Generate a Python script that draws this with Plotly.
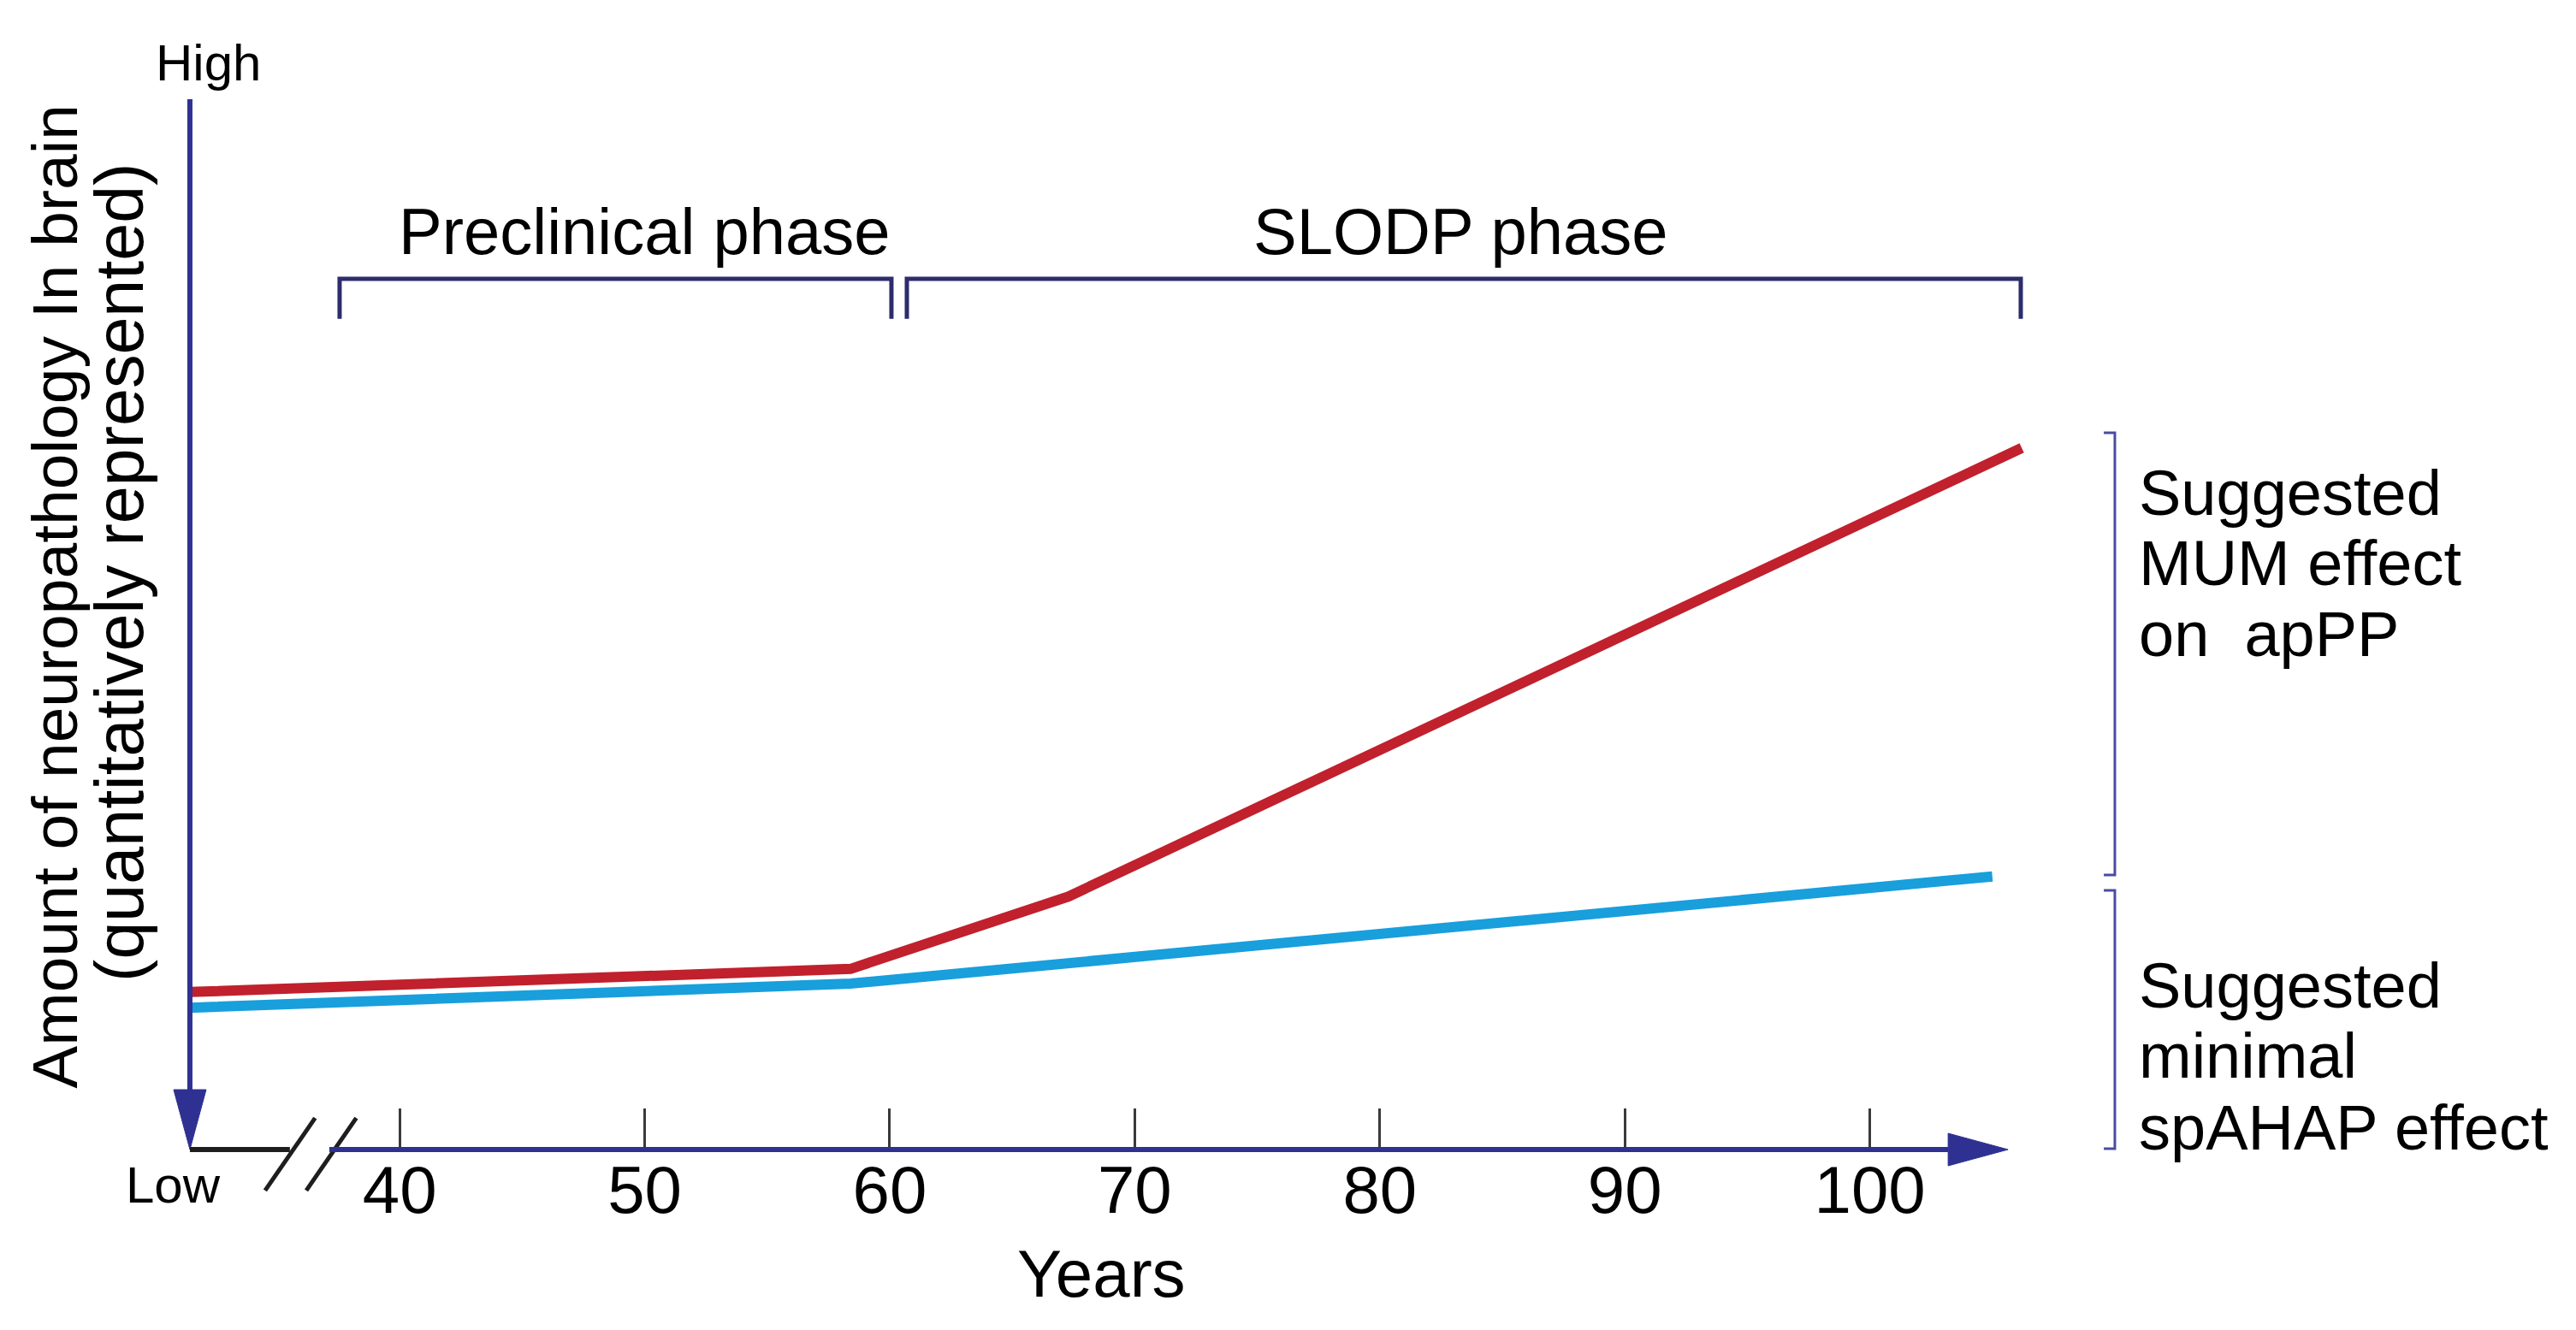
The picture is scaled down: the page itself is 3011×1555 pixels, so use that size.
import plotly.graph_objects as go

# ---------------- data ----------------
red_years = [31.44, 58.4, 67.3, 106.2]
red_values = [15.0, 17.2, 24.1, 66.8]
blue_years = [31.44, 58.4, 105.0]
blue_values = [13.5, 15.8, 26.0]

tick_years = [40, 50, 60, 70, 80, 90, 100]
tick_labels = ["40", "50", "60", "70", "80", "90", "100"]

phase_names = ["Preclinical phase", "SLODP phase"]
phase_starts = [37.55, 60.70]
phase_ends = [60.07, 106.16]
phase_label_x = [50.0, 83.3]

effect_lines = [["Suggested", "MUM effect", "on  apPP"],
                ["Suggested", "minimal", "spAHAP effect"]]
effect_tops = [68.24, 24.67]
effect_bottoms = [26.14, 0.08]
effect_text_y = [[62.5, 55.8, 49.1], [15.6, 8.9, 2.1]]

y_title_lines = ["Amount of neuropathology In brain", "(quantitatively represented)"]

# ---------------- layout calibration ----------------
W, H = 3011, 1555
X_RANGE = [23.69, 128.82]
Y_RANGE = [-17.18, 109.45]
PX_X = W / (X_RANGE[1] - X_RANGE[0])   # px per year
PX_Y = H / (Y_RANGE[1] - Y_RANGE[0])   # px per unit

AX0 = 31.44        # origin of axes (years)
Y_TOP = 100.0
X_TIP = 105.64
ARROW_LEN = 70     # px
ARROW_HALF = 19    # px

AXIS_BLUE = "#2E3192"
BRACKET = "#2D2C6C"
RIGHT_BRACKET = "#4B4BA3"
RED = "#C1202D"
CYAN = "#189FDC"
FONT = "Liberation Sans, Arial, Helvetica, sans-serif"

fig = go.Figure()

fig.add_trace(go.Scatter(x=blue_years, y=blue_values, mode="lines",
                         line=dict(color=CYAN, width=12), hoverinfo="skip"))
fig.add_trace(go.Scatter(x=red_years, y=red_values, mode="lines",
                         line=dict(color=RED, width=12), hoverinfo="skip"))

shapes = []
# y axis line + arrowhead
ay_base = ARROW_LEN / PX_Y
ay_half = ARROW_HALF / PX_X
shapes.append(dict(type="line", xref="x", yref="y", x0=AX0, x1=AX0, y0=Y_TOP, y1=ay_base,
                   line=dict(color=AXIS_BLUE, width=6)))
shapes.append(dict(type="path", xref="x", yref="y",
                   path=f"M {AX0-ay_half},{ay_base} L {AX0+ay_half},{ay_base} L {AX0},0 Z",
                   fillcolor=AXIS_BLUE, line=dict(color=AXIS_BLUE, width=1)))
# x axis: black stub, break, blue line + arrowhead
BREAK1 = 35.52
BREAK2 = 37.13
shapes.append(dict(type="line", xref="x", yref="y", x0=AX0, x1=BREAK1, y0=0, y1=0,
                   line=dict(color="#1E1E1E", width=6)))
for sx in [34.51, 36.19]:
    shapes.append(dict(type="line", xref="x", yref="y", x0=sx, x1=sx + 2.04, y0=-3.9, y1=3.0,
                       line=dict(color="#1E1E1E", width=5)))
ax_base = X_TIP - ARROW_LEN / PX_X
ax_half = ARROW_HALF / PX_Y
shapes.append(dict(type="line", xref="x", yref="y", x0=BREAK2, x1=ax_base, y0=0, y1=0,
                   line=dict(color=AXIS_BLUE, width=6)))
shapes.append(dict(type="path", xref="x", yref="y",
                   path=f"M {ax_base},{-ax_half} L {ax_base},{ax_half} L {X_TIP},0 Z",
                   fillcolor=AXIS_BLUE, line=dict(color=AXIS_BLUE, width=1)))

# phase brackets
BR_Y = 82.9
BR_TICK = 79.1
for s, e in zip(phase_starts, phase_ends):
    shapes.append(dict(type="path", xref="x", yref="y",
                       path=f"M {s},{BR_TICK} L {s},{BR_Y} L {e},{BR_Y} L {e},{BR_TICK}",
                       line=dict(color=BRACKET, width=5)))

# right brackets
RB_X = 110.0
RB_TICK = 109.55
for t, b in zip(effect_tops, effect_bottoms):
    shapes.append(dict(type="path", xref="x", yref="y",
                       path=f"M {RB_TICK},{t} L {RB_X},{t} L {RB_X},{b} L {RB_TICK},{b}",
                       line=dict(color=RIGHT_BRACKET, width=3)))

annotations = []
for name, xc in zip(phase_names, phase_label_x):
    annotations.append(dict(x=xc, y=87.4, xref="x", yref="y", text=name, showarrow=False,
                            xanchor="center", yanchor="middle", font=dict(size=76, color="black")))
for lines, ys in zip(effect_lines, effect_text_y):
    for txt, yy in zip(lines, ys):
        annotations.append(dict(x=110.9, y=yy, xref="x", yref="y", text=txt, showarrow=False,
                                xanchor="left", yanchor="middle", font=dict(size=74, color="black")))
annotations.append(dict(x=32.2, y=103.5, xref="x", yref="y", text="High", showarrow=False,
                        xanchor="center", yanchor="middle", font=dict(size=60, color="black")))
annotations.append(dict(x=30.76, y=-3.34, xref="x", yref="y", text="Low", showarrow=False,
                        xanchor="center", yanchor="middle", font=dict(size=60, color="black")))
annotations.append(dict(x=68.66, y=-11.8, xref="x", yref="y", text="Years", showarrow=False,
                        xanchor="center", yanchor="middle", font=dict(size=78, color="black")))
for txt, xx, yy, fs in zip(y_title_lines, [25.92, 28.58], [52.7, 54.9], [75, 79]):
    annotations.append(dict(x=xx, y=yy, xref="x", yref="y", text=txt, showarrow=False,
                            textangle=-90, xanchor="center", yanchor="middle",
                            font=dict(size=fs, color="black")))

fig.update_layout(
    width=W, height=H,
    margin=dict(l=0, r=0, t=0, b=0),
    paper_bgcolor="white", plot_bgcolor="white",
    showlegend=False,
    font=dict(family=FONT, color="black"),
    shapes=shapes, annotations=annotations,
    xaxis=dict(range=X_RANGE, anchor="free",
               position=(0 - Y_RANGE[0]) / (Y_RANGE[1] - Y_RANGE[0]),
               tickmode="array", tickvals=tick_years, ticktext=tick_labels,
               ticks="inside", ticklen=48, tickwidth=2.5, tickcolor="#3A3A3A",
               tickfont=dict(size=78, color="black", family=FONT),
               ticklabelstandoff=-5,
               showgrid=False, zeroline=False, showline=False, fixedrange=True),
    yaxis=dict(range=Y_RANGE, visible=False, showgrid=False, zeroline=False, fixedrange=True),
)

fig.write_html("out.html", config={"displayModeBar": False},
               post_script="document.body.style.margin='0px';")
